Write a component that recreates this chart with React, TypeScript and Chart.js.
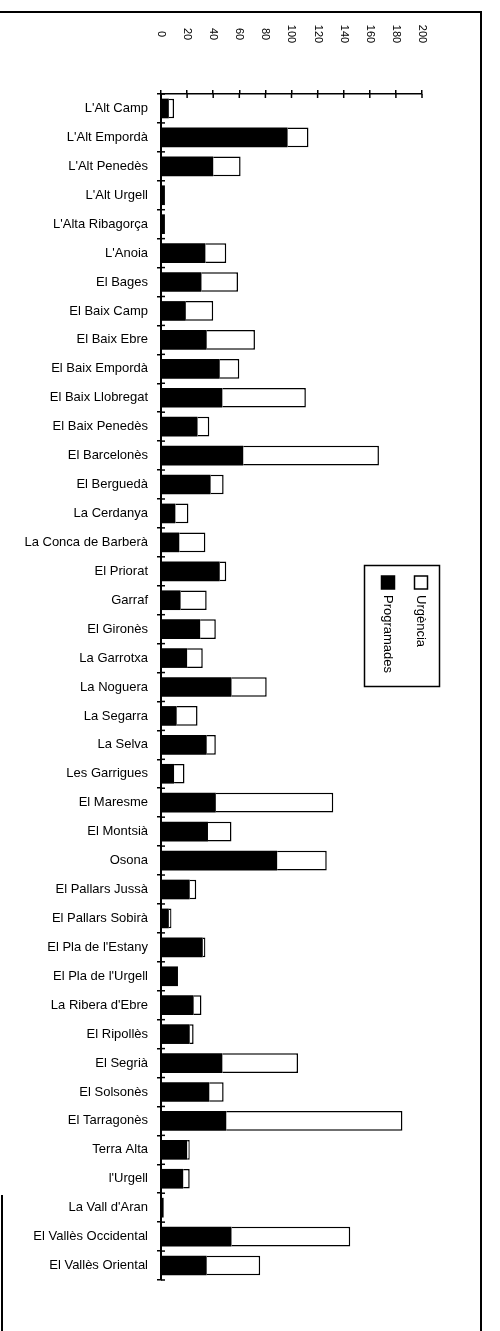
import React, { useEffect, useRef } from "react";
import { Chart, registerables } from "chart.js";

Chart.register(...registerables);

const categories: string[] = [
  "L'Alt Camp", "L'Alt Empordà", "L'Alt Penedès", "L'Alt Urgell", "L'Alta Ribagorça",
  "L'Anoia", "El Bages", "El Baix Camp", "El Baix Ebre", "El Baix Empordà",
  "El Baix Llobregat", "El Baix Penedès", "El Barcelonès", "El Berguedà", "La Cerdanya",
  "La Conca de Barberà", "El Priorat", "Garraf", "El Gironès", "La Garrotxa",
  "La Noguera", "La Segarra", "La Selva", "Les Garrigues", "El Maresme",
  "El Montsià", "Osona", "El Pallars Jussà", "El Pallars Sobirà", "El Pla de l'Estany",
  "El Pla de l'Urgell", "La Ribera d'Ebre", "El Ripollès", "El Segrià", "El Solsonès",
  "El Tarragonès", "Terra Alta", "l'Urgell", "La Vall d'Aran", "El Vallès Occidental",
  "El Vallès Oriental",
];

const programades: number[] = [
  6, 97, 40, 3, 3, 34, 31, 19, 35, 45,
  47, 28, 63, 38, 11, 14, 45, 15, 30, 20,
  54, 12, 35, 10, 42, 36, 89, 22, 6, 32,
  13, 25, 22, 47, 37, 50, 20, 17, 2, 54,
  35,
];

const urgencia: number[] = [
  4, 16, 21, 0, 0, 16, 28, 21, 37, 15,
  64, 9, 104, 10, 10, 20, 5, 20, 12, 12,
  27, 16, 7, 8, 90, 18, 38, 5, 2, 2,
  0, 6, 3, 58, 11, 135, 2, 5, 0, 91,
  41,
];

const xTickValues: number[] = [0, 20, 40, 60, 80, 100, 120, 140, 160, 180, 200];

const seriesNames: string[] = ["Programades", "Urgència"];

const FONT = "'Liberation Sans', Arial, Helvetica, sans-serif";

const decorPlugin = {
  id: "decor",
  afterDraw(chart: any) {
    const ctx = chart.ctx as CanvasRenderingContext2D;
    const xs = chart.scales.x;
    const ys = chart.scales.y;
    const area = chart.chartArea;
    ctx.save();
    ctx.strokeStyle = "#000";
    ctx.fillStyle = "#000";
    ctx.lineWidth = 1.5;
    // inward tick marks on x axis
    for (const v of xTickValues) {
      const px = xs.getPixelForValue(v);
      ctx.beginPath();
      ctx.moveTo(px, area.top);
      ctx.lineTo(px, area.top + 4);
      ctx.stroke();
    }
    // inward tick marks on y axis (band boundaries)
    const n = categories.length;
    for (let i = 0; i <= n; i++) {
      const c = ys.getPixelForValue(Math.min(i, n - 1));
      const half = (area.bottom - area.top) / n / 2;
      const py = i < n ? c - half : c + half;
      ctx.beginPath();
      ctx.moveTo(area.left, py);
      ctx.lineTo(area.left + 4, py);
      ctx.stroke();
    }
    // rotated x tick labels (clockwise)
    ctx.font = `11px ${FONT}`;
    ctx.textAlign = "center";
    ctx.textBaseline = "middle";
    for (const v of xTickValues) {
      const px = xs.getPixelForValue(v);
      ctx.save();
      ctx.translate(px, 34);
      ctx.rotate(Math.PI / 2);
      ctx.fillText(String(v), 0, 0);
      ctx.restore();
    }
    // legend (rotated clockwise)
    ctx.lineWidth = 1.5;
    ctx.strokeRect(364.5, 565.5, 75, 121);
    const items = [
      { name: seriesNames[1], cx: 421, fill: "#fff" },
      { name: seriesNames[0], cx: 388, fill: "#000" },
    ];
    ctx.font = `13px ${FONT}`;
    ctx.textAlign = "left";
    for (const it of items) {
      ctx.fillStyle = it.fill;
      ctx.fillRect(it.cx - 6.5, 576, 13, 13);
      ctx.strokeRect(it.cx - 6.5, 576, 13, 13);
      ctx.fillStyle = "#000";
      ctx.save();
      ctx.translate(it.cx, 595);
      ctx.rotate(Math.PI / 2);
      ctx.fillText(it.name, 0, 0);
      ctx.restore();
    }
    ctx.restore();
  },
};

function BarChart() {
  const ref = useRef<HTMLCanvasElement | null>(null);
  useEffect(() => {
    if (!ref.current) return;
    const chart = new Chart(ref.current, {
      type: "bar",
      data: {
        labels: categories,
        datasets: [
          {
            label: seriesNames[0],
            data: programades,
            backgroundColor: "#000",
            borderColor: "#000",
            borderWidth: 0,
            barPercentage: 0.68,
            categoryPercentage: 1,
          },
          {
            label: seriesNames[1],
            data: urgencia,
            backgroundColor: "#fff",
            borderColor: "#000",
            borderWidth: 1.5,
            barPercentage: 0.68,
            categoryPercentage: 1,
          },
        ],
      },
      options: {
        indexAxis: "y",
        animation: false,
        responsive: false,
        maintainAspectRatio: false,
        layout: { padding: { top: 0, left: 8, right: 78, bottom: 51 } },
        plugins: { legend: { display: false }, tooltip: { enabled: false } },
        scales: {
          x: {
            type: "linear",
            position: "top",
            stacked: true,
            min: 0,
            max: 200,
            ticks: { display: false, stepSize: 20 },
            grid: {
              display: true,
              drawOnChartArea: false,
              drawTicks: true,
              tickLength: 4,
              color: "#000",
              lineWidth: 1.5,
            },
            border: { display: true, color: "#000", width: 1.5 },
            afterFit: (s: any) => {
              s.height = 94;
            },
          },
          y: {
            type: "category",
            stacked: true,
            ticks: {
              color: "#000",
              autoSkip: false,
              padding: 9,
              font: { family: FONT, size: 13 },
            },
            grid: {
              display: true,
              drawOnChartArea: false,
              drawTicks: true,
              tickLength: 4,
              color: "#000",
              lineWidth: 1.5,
              offset: true,
            },
            border: { display: true, color: "#000", width: 2 },
            afterFit: (s: any) => {
              s.width = 153;
            },
          },
        },
      },
      plugins: [decorPlugin],
    } as any);
    return () => chart.destroy();
  }, []);
  return <canvas ref={ref} width={500} height={1331} style={{ display: "block" }} />;
}

export default function App() {
  return (
    <div style={{ position: "absolute", left: 0, top: 0, width: 500, height: 1331, background: "#fff", overflow: "hidden" }}>
      <BarChart />
      <div style={{ position: "absolute", left: 0, top: 11, width: 482, height: 1320, borderTop: "2px solid #000", borderRight: "2px solid #000", boxSizing: "border-box", pointerEvents: "none" }} />
      <div style={{ position: "absolute", left: 1, top: 1195, width: 2, height: 136, background: "#000" }} />
    </div>
  );
}
